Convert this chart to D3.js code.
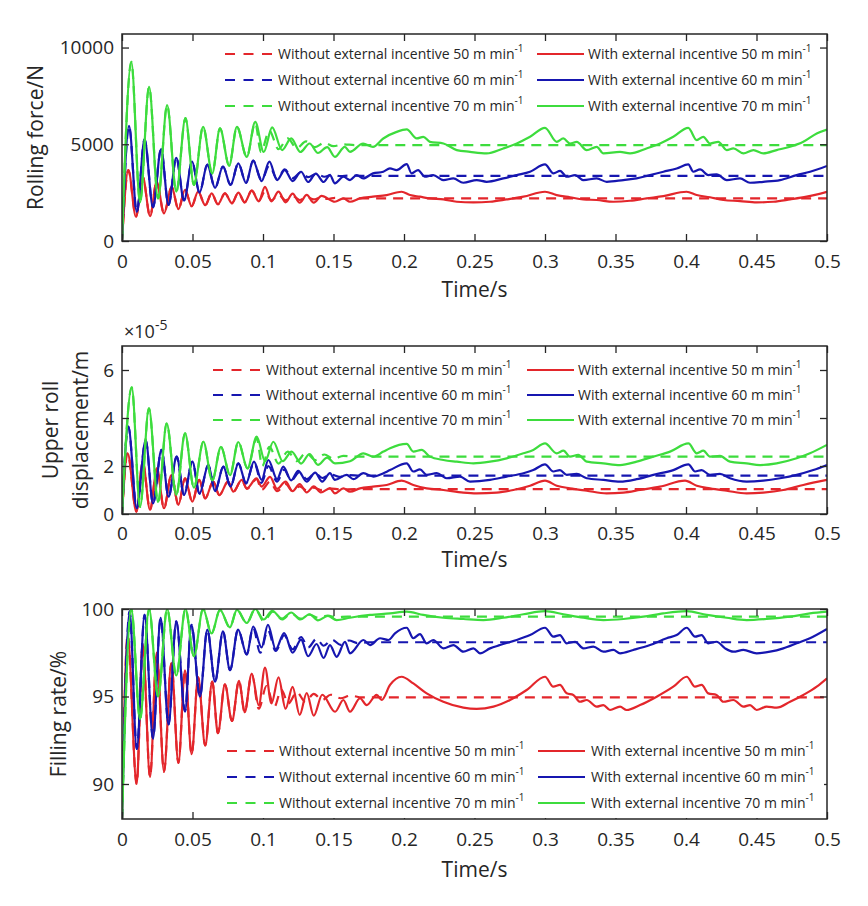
<!DOCTYPE html>
<html>
<head>
<meta charset="utf-8">
<script src="https://cdn.jsdelivr.net/npm/d3@7"></script>
<style>
  body { margin: 0; background: #fff; }
  text { font-family: "Open Sans", sans-serif; fill: #262626; }
</style>
</head>
<body>
<div id="chart"></div>
<script>
// ---- ticks ----
var timeTicks = [0, 0.05, 0.1, 0.15, 0.2, 0.25, 0.3, 0.35, 0.4, 0.45, 0.5];
var forceTicks = [0, 5000, 10000];
var dispTicks = [0, 2, 4, 6];
var fillTicks = [90, 95, 100];

var legendLabels = [
    ["Without external incentive 50 m min", "With external incentive 50 m min"],
    ["Without external incentive 60 m min", "With external incentive 60 m min"],
    ["Without external incentive 70 m min", "With external incentive 70 m min"]
];

// ---- rolling force (N): [time s, value] ----
var forceRedEarly = [[0,0],[0.0045,3665],[0.0099,1256],[0.0147,3320],[0.0199,1290],[0.0246,3060],[0.0298,1430],[0.0352,2800],[0.040,1650],[0.0447,2650],[0.0494,1800],[0.054,2560],[0.059,1850],[0.0636,2460],[0.068,1900],[0.073,2460],[0.078,1950],[0.0825,2500],[0.087,2000],[0.092,2600]];
var forceRedWithout = [[0.097,2080],[0.1014,2550],[0.106,2100],[0.111,2400],[0.116,2100],[0.121,2330],[0.126,2120],[0.131,2280],[0.136,2150],[0.141,2250],[0.146,2170],[0.151,2230],[0.158,2190],[0.166,2203],[0.5,2203]];
var forceRedWith = [[0.097,2050],[0.1014,2800],[0.106,2050],[0.111,2550],[0.116,2000],[0.121,2450],[0.126,1980],[0.131,2380],[0.136,1980],[0.1415,2330],[0.151,2030],[0.157,2203],[0.1617,2030],[0.1688,2203],[0.178,2290],[0.1877,2375],[0.1983,2545],[0.2043,2375],[0.2113,2290],[0.2184,2203],[0.228,2150],[0.2374,2030],[0.2492,1998],[0.261,2030],[0.2728,2150],[0.2847,2290],[0.3,2545],[0.3083,2375],[0.3177,2260],[0.3272,2150],[0.3367,2118],[0.3485,2030],[0.3603,2080],[0.372,2203],[0.384,2320],[0.4004,2545],[0.4076,2375],[0.417,2260],[0.4265,2118],[0.4383,2065],[0.4501,1998],[0.462,2030],[0.4738,2150],[0.4856,2290],[0.5,2545]];

var forceBlueEarly = [[0,0],[0.005,5950],[0.0105,1500],[0.016,5250],[0.022,1750],[0.0277,4750],[0.033,1860],[0.0385,4300],[0.044,2100],[0.0497,4100],[0.055,2500],[0.0605,3950],[0.066,2750],[0.0716,3850],[0.077,2900],[0.0825,4010],[0.088,3000]];
var forceBlueWithout = [[0.093,4150],[0.099,3150],[0.1045,3900],[0.11,3200],[0.1154,3700],[0.121,3250],[0.127,3550],[0.132,3300],[0.138,3480],[0.1435,3320],[0.149,3430],[0.155,3350],[0.161,3380],[0.17,3371],[0.5,3371]];
var forceBlueWith = [[0.093,4150],[0.099,3100],[0.1045,4100],[0.11,3150],[0.1154,3665],[0.121,3100],[0.127,3580],[0.132,3050],[0.1375,3480],[0.143,3050],[0.1475,3407],[0.151,2980],[0.157,3320],[0.1617,3150],[0.1664,3407],[0.171,3235],[0.178,3495],[0.1853,3580],[0.19,3750],[0.1948,3665],[0.2019,3975],[0.2054,3495],[0.21,3665],[0.2148,3320],[0.2207,3407],[0.228,3150],[0.235,3235],[0.242,3010],[0.2516,3150],[0.2586,3060],[0.2704,3235],[0.28,3407],[0.2894,3580],[0.3,3960],[0.306,3495],[0.3107,3630],[0.3154,3320],[0.3214,3407],[0.3272,3150],[0.3367,3235],[0.3438,3060],[0.3556,3150],[0.365,3235],[0.3745,3407],[0.384,3580],[0.3934,3750],[0.4016,3960],[0.4052,3580],[0.41,3700],[0.4158,3407],[0.4217,3450],[0.4289,3150],[0.4383,3235],[0.4454,3010],[0.4548,3060],[0.4667,3150],[0.4785,3407],[0.488,3580],[0.5,3880]];

var forceGreenEarly = [[0,0],[0.0066,9257],[0.0128,2000],[0.0192,7970],[0.0256,2200],[0.032,7020],[0.0385,2550],[0.045,6350],[0.051,2900],[0.0575,5900],[0.064,3500],[0.0695,5820],[0.076,3900],[0.0815,5900],[0.0885,4350]];
var forceGreenWithout = [[0.0945,6100],[0.0985,4600],[0.1045,5700],[0.111,4750],[0.1175,5300],[0.124,4800],[0.1305,5150],[0.137,4850],[0.1435,5080],[0.15,4900],[0.157,5000],[0.165,4956],[0.5,4956]];
var forceGreenWith = [[0.0945,6160],[0.1005,4600],[0.1065,5870],[0.1135,4700],[0.12,5300],[0.1265,4600],[0.133,5040],[0.139,4550],[0.1455,4850],[0.151,4350],[0.158,4870],[0.1617,4610],[0.171,5040],[0.178,4870],[0.1853,5300],[0.1948,5640],[0.2019,5765],[0.209,5300],[0.2137,5385],[0.2184,5126],[0.228,5040],[0.2374,4700],[0.2468,4610],[0.2586,4530],[0.2704,4785],[0.28,5040],[0.2894,5385],[0.3,5850],[0.3083,5126],[0.313,5300],[0.3177,5040],[0.3225,5126],[0.3296,4700],[0.3367,4870],[0.3414,4530],[0.3532,4610],[0.3603,4530],[0.372,4785],[0.3816,5040],[0.391,5385],[0.4016,5850],[0.4076,5214],[0.4123,5385],[0.417,5040],[0.4229,5126],[0.4289,4700],[0.4336,4785],[0.4407,4530],[0.4478,4700],[0.4548,4530],[0.4643,4700],[0.4738,4870],[0.4832,5126],[0.4927,5560],[0.5,5765]];

// ---- upper roll displacement (x1e-5 m) ----
var dispRedEarly = [[0,0],[0.004,2.53],[0.0102,0.1],[0.0147,2.18],[0.0199,0.17],[0.0248,1.90],[0.0298,0.24],[0.035,1.62],[0.04,0.38],[0.0447,1.49],[0.0499,0.51],[0.0548,1.42],[0.059,0.65],[0.0647,1.35],[0.069,0.79],[0.0752,1.35],[0.079,0.93],[0.0849,1.42]];
var dispRedWithout = [[0.0885,1.05],[0.0955,1.45],[0.099,1.0],[0.105,1.35],[0.11,0.95],[0.116,1.25],[0.121,0.95],[0.126,1.15],[0.131,0.98],[0.136,1.1],[0.141,1.0],[0.147,1.07],[0.155,1.02],[0.165,1.04],[0.5,1.04]];
var dispRedWith = [[0.0885,1.07],[0.0955,1.49],[0.099,1.14],[0.105,1.55],[0.11,1.05],[0.116,1.35],[0.121,0.95],[0.126,1.25],[0.131,0.9],[0.136,1.15],[0.141,0.9],[0.1475,1.07],[0.151,0.86],[0.157,1.07],[0.1617,0.93],[0.1688,1.07],[0.178,1.14],[0.1877,1.21],[0.1983,1.39],[0.2066,1.21],[0.2161,1.07],[0.2279,1.0],[0.2421,0.89],[0.2515,0.86],[0.2657,0.89],[0.2775,1.0],[0.2894,1.18],[0.3,1.39],[0.3083,1.18],[0.3177,1.07],[0.3296,0.97],[0.3437,0.86],[0.3556,0.89],[0.3674,1.0],[0.3816,1.14],[0.3993,1.39],[0.4076,1.18],[0.417,1.07],[0.4288,0.97],[0.443,0.86],[0.4548,0.89],[0.469,1.0],[0.4832,1.21],[0.5,1.42]];

var dispBlueEarly = [[0,0],[0.0045,3.64],[0.0104,0.24],[0.0168,3.08],[0.022,0.44],[0.028,2.67],[0.033,0.72],[0.0388,2.39],[0.044,0.8],[0.0499,2.18],[0.055,0.85],[0.0612,2.04],[0.066,0.95],[0.0719,1.97],[0.077,1.14],[0.0825,2.11],[0.088,1.28]];
var dispBlueWithout = [[0.0936,2.15],[0.099,1.3],[0.1038,2.0],[0.11,1.35],[0.115,1.85],[0.12,1.4],[0.126,1.75],[0.131,1.45],[0.137,1.7],[0.142,1.5],[0.148,1.65],[0.154,1.55],[0.16,1.62],[0.17,1.60],[0.5,1.60]];
var dispBlueWith = [[0.0936,2.18],[0.099,1.42],[0.1038,2.25],[0.11,1.45],[0.1144,1.97],[0.12,1.4],[0.125,1.80],[0.131,1.35],[0.137,1.72],[0.142,1.35],[0.1475,1.70],[0.151,1.42],[0.1593,1.63],[0.1641,1.45],[0.1712,1.70],[0.1783,1.56],[0.1854,1.70],[0.1901,1.83],[0.2019,2.11],[0.2066,1.77],[0.2113,1.86],[0.2161,1.63],[0.2232,1.70],[0.2303,1.49],[0.2397,1.56],[0.2468,1.35],[0.261,1.42],[0.2728,1.56],[0.2847,1.70],[0.2917,1.83],[0.3,2.07],[0.3059,1.77],[0.3106,1.83],[0.3154,1.63],[0.3225,1.67],[0.3296,1.49],[0.3414,1.42],[0.3532,1.35],[0.365,1.45],[0.3768,1.63],[0.391,1.83],[0.4017,2.07],[0.4064,1.77],[0.4111,1.83],[0.417,1.63],[0.4241,1.67],[0.4312,1.49],[0.443,1.35],[0.4548,1.39],[0.4667,1.49],[0.4785,1.63],[0.4903,1.83],[0.5,2.04]];

var dispGreenEarly = [[0,0],[0.0069,5.28],[0.0128,0.3],[0.0191,4.40],[0.0256,0.5],[0.0317,3.78],[0.0385,0.8],[0.0447,3.36],[0.051,1.1],[0.0577,3.01],[0.064,1.4],[0.0702,2.80],[0.0766,1.62],[0.0825,3.0],[0.089,1.9]];
var dispGreenWithout = [[0.0955,3.15],[0.0995,2.0],[0.1045,2.8],[0.111,2.1],[0.1175,2.6],[0.124,2.2],[0.1305,2.55],[0.137,2.25],[0.1435,2.48],[0.15,2.3],[0.157,2.42],[0.165,2.39],[0.5,2.39]];
var dispGreenWith = [[0.0955,3.22],[0.1015,2.2],[0.1073,3.01],[0.114,2.2],[0.1203,2.60],[0.127,2.1],[0.133,2.5],[0.139,2.05],[0.1455,2.35],[0.1511,2.11],[0.1617,2.2],[0.1712,2.53],[0.1783,2.39],[0.1854,2.60],[0.1901,2.74],[0.2019,2.92],[0.2066,2.60],[0.2125,2.67],[0.2184,2.39],[0.2279,2.25],[0.2374,2.18],[0.2492,2.11],[0.261,2.18],[0.2728,2.32],[0.2847,2.53],[0.2917,2.67],[0.3,2.94],[0.3083,2.53],[0.3131,2.64],[0.3177,2.39],[0.3236,2.46],[0.3296,2.18],[0.3414,2.11],[0.3532,2.04],[0.365,2.18],[0.3768,2.39],[0.3887,2.60],[0.4017,2.94],[0.4076,2.53],[0.4123,2.64],[0.417,2.39],[0.4241,2.42],[0.4312,2.18],[0.443,2.11],[0.4525,2.04],[0.4643,2.11],[0.4785,2.32],[0.4879,2.53],[0.5,2.88]];

// ---- filling rate (%) ----
var fillRedEarly = [[0,88],[0.004,98.5],[0.0104,90.0],[0.0147,98.0],[0.0199,90.4],[0.0246,97.5],[0.0298,90.7],[0.035,96.9],[0.04,91.2],[0.0447,96.5],[0.0494,91.7],[0.054,96.1],[0.059,92.2],[0.064,95.85],[0.068,92.9],[0.073,95.7],[0.078,93.6],[0.083,95.9],[0.087,94.1],[0.092,96.3]];
var fillRedWithout = [[0.097,94.3],[0.1025,95.6],[0.108,94.4],[0.113,95.4],[0.118,94.6],[0.124,95.25],[0.13,94.7],[0.136,95.15],[0.142,94.8],[0.148,95.1],[0.155,94.9],[0.162,95.05],[0.17,94.95],[0.5,94.95]];
var fillRedWith = [[0.097,94.5],[0.1014,96.65],[0.106,94.6],[0.111,96.1],[0.116,94.3],[0.121,95.55],[0.126,93.95],[0.131,95.2],[0.136,93.9],[0.142,95.1],[0.1511,94.13],[0.157,94.8],[0.1617,94.13],[0.1688,94.9],[0.1735,94.51],[0.1806,95.09],[0.1842,94.8],[0.1901,95.66],[0.1983,96.13],[0.2066,95.75],[0.2161,95.18],[0.2279,94.7],[0.2421,94.36],[0.2515,94.29],[0.2634,94.42],[0.2752,94.8],[0.287,95.37],[0.3,96.13],[0.3059,95.56],[0.3106,95.66],[0.3154,95.18],[0.3201,95.09],[0.3248,94.7],[0.3296,94.8],[0.3366,94.42],[0.3414,94.51],[0.3461,94.23],[0.3532,94.42],[0.3579,94.23],[0.3674,94.51],[0.3792,94.99],[0.391,95.56],[0.4005,96.13],[0.4064,95.56],[0.4111,95.66],[0.4158,95.18],[0.4217,95.09],[0.4265,94.7],[0.4336,94.8],[0.4407,94.42],[0.4454,94.51],[0.4501,94.23],[0.4572,94.42],[0.4643,94.36],[0.4738,94.7],[0.4832,95.09],[0.4927,95.56],[0.5,96.04]];

var fillBlueEarly = [[0,88],[0.0054,99.87],[0.0105,92.0],[0.016,99.67],[0.022,92.6],[0.0274,99.49],[0.033,93.4],[0.0385,99.3],[0.0447,94.15],[0.0492,99.1],[0.0553,95.0],[0.0605,98.82],[0.066,95.85],[0.0716,98.72],[0.0766,96.5],[0.0823,98.82],[0.0885,97.4]];
var fillBlueWithout = [[0.093,98.95],[0.098,97.5],[0.1035,98.8],[0.109,97.6],[0.115,98.5],[0.121,97.7],[0.127,98.4],[0.132,97.8],[0.138,98.3],[0.143,97.9],[0.149,98.25],[0.155,97.95],[0.161,98.2],[0.167,98.05],[0.175,98.1],[0.5,98.1]];
var fillBlueWith = [[0.093,99.0],[0.099,97.8],[0.1035,99.1],[0.109,97.7],[0.115,98.63],[0.121,97.5],[0.127,98.25],[0.132,97.3],[0.138,98.0],[0.143,97.2],[0.1475,97.94],[0.1522,97.27],[0.1582,98.13],[0.1617,97.47],[0.1712,98.23],[0.1759,97.94],[0.183,98.33],[0.1889,98.23],[0.1936,98.61],[0.2019,98.93],[0.2066,98.33],[0.2113,98.57],[0.2161,98.04],[0.2208,98.23],[0.2279,97.75],[0.235,97.94],[0.2421,97.56],[0.2492,97.75],[0.2539,97.47],[0.261,97.75],[0.2681,97.94],[0.2799,98.23],[0.2894,98.51],[0.3,98.93],[0.3059,98.42],[0.3106,98.51],[0.3154,98.04],[0.3213,98.13],[0.3272,97.75],[0.3343,97.85],[0.3414,97.56],[0.3485,97.66],[0.3532,97.47],[0.3626,97.66],[0.3745,97.94],[0.3863,98.33],[0.3934,98.51],[0.4005,98.93],[0.4064,98.42],[0.4111,98.51],[0.4158,98.04],[0.4217,98.13],[0.4277,97.75],[0.4336,97.56],[0.4407,97.66],[0.4501,97.47],[0.4596,97.56],[0.469,97.75],[0.4785,98.04],[0.4879,98.33],[0.5,98.86]];

var fillGreenEarly = [[0,88],[0.0066,100],[0.0128,93.7],[0.0192,100],[0.0256,95.0],[0.032,100],[0.0385,96.2],[0.045,100],[0.051,97.3],[0.0575,100],[0.0635,98.6],[0.0695,99.95],[0.0765,98.95],[0.0815,99.95],[0.0885,99.2]];
var fillGreenWithout = [[0.0945,100],[0.1005,99.3],[0.107,99.85],[0.1135,99.4],[0.12,99.75],[0.1265,99.45],[0.133,99.68],[0.139,99.5],[0.146,99.62],[0.152,99.52],[0.16,99.57],[0.5,99.56]];
var fillGreenWith = [[0.0945,100],[0.1005,99.4],[0.1065,99.9],[0.1135,99.45],[0.12,99.8],[0.1265,99.4],[0.133,99.7],[0.139,99.35],[0.146,99.6],[0.1522,99.37],[0.1617,99.5],[0.1759,99.66],[0.1901,99.75],[0.2019,99.85],[0.2137,99.66],[0.2279,99.5],[0.2421,99.43],[0.2563,99.37],[0.2704,99.5],[0.2847,99.7],[0.3,99.88],[0.3131,99.7],[0.3272,99.5],[0.3414,99.37],[0.3556,99.43],[0.3697,99.56],[0.3839,99.75],[0.4005,99.88],[0.4147,99.66],[0.4288,99.5],[0.443,99.37],[0.4572,99.43],[0.4738,99.56],[0.4879,99.75],[0.5,99.85]];

var colors = ["#e3262b", "#1616b0", "#3ddc3d"];

var width = 868, height = 906;
var plotLeft = 122, plotRight = 827;
var tickLen = 7;

var svg = d3.select("#chart").append("svg")
    .attr("width", width)
    .attr("height", height);

var x = d3.scaleLinear().domain([0, 0.5]).range([plotLeft, plotRight]);

var panels = [
    {
        id: "force", top: 34, bottom: 241, domain: [0, 10700], ticks: forceTicks,
        series: [[forceRedEarly, forceRedWithout, forceRedWith],
                 [forceBlueEarly, forceBlueWithout, forceBlueWith],
                 [forceGreenEarly, forceGreenWithout, forceGreenWith]],
        rows: [54, 80, 106], leg: [225, 278, 537, 588],
        ylabel: [["Rolling force/N", 43]], tickBase: 269, titleBase: 297
    },
    {
        id: "disp", top: 346, bottom: 514, domain: [0, 7], ticks: dispTicks,
        series: [[dispRedEarly, dispRedWithout, dispRedWith],
                 [dispBlueEarly, dispBlueWithout, dispBlueWith],
                 [dispGreenEarly, dispGreenWithout, dispGreenWith]],
        rows: [370, 395, 420], leg: [213, 266, 527, 578],
        ylabel: [["Upper roll", 58], ["displacement/m", 88]], tickBase: 541, titleBase: 567,
        exponent: true
    },
    {
        id: "fill", top: 609, bottom: 819, domain: [88, 100], ticks: fillTicks,
        series: [[fillRedEarly, fillRedWithout, fillRedWith],
                 [fillBlueEarly, fillBlueWithout, fillBlueWith],
                 [fillGreenEarly, fillGreenWithout, fillGreenWith]],
        rows: [751, 777, 803], leg: [227, 279, 538, 591],
        ylabel: [["Filling rate/%", 66]], tickBase: 847, titleBase: 877,
        legendBg: true
    }
];

panels.forEach(function (p) {
    var y = d3.scaleLinear().domain(p.domain).range([p.bottom, p.top]);

    svg.append("clipPath").attr("id", "clip-" + p.id)
        .append("rect")
        .attr("x", plotLeft).attr("y", p.top)
        .attr("width", plotRight - plotLeft).attr("height", p.bottom - p.top);

    var line = d3.line()
        .x(function (d) { return x(d[0]) })
        .y(function (d) { return y(d[1]) })
        .curve(d3.curveMonotoneX);

    var curves = svg.append("g").attr("clip-path", "url(#clip-" + p.id + ")");

    p.series.forEach(function (s, i) {
        // without (dashed)
        curves.append("path")
            .attr("d", line(s[0].concat(s[1])))
            .style("fill", "none")
            .style("stroke", colors[i])
            .style("stroke-width", 2.2)
            .style("stroke-dasharray", "10,7");
        // with (solid)
        curves.append("path")
            .attr("d", line(s[0].concat(s[2])))
            .style("fill", "none")
            .style("stroke", colors[i])
            .style("stroke-width", 2.2);
    });

    //axes (ticks inward)
    var bottomAxis = svg.append("g")
        .attr("transform", "translate(0," + p.bottom + ")")
        .call(d3.axisBottom(x).tickValues(timeTicks).tickSize(-tickLen).tickPadding(p.tickBase - p.bottom - 14)
            .tickFormat(function (d) { return d === 0 ? "0" : String(+d.toFixed(2)) }));
    svg.append("g")
        .attr("transform", "translate(0," + p.top + ")")
        .call(d3.axisTop(x).tickValues(timeTicks).tickSize(-tickLen).tickFormat(""));
    var leftAxis = svg.append("g")
        .attr("transform", "translate(" + plotLeft + ",0)")
        .call(d3.axisLeft(y).tickValues(p.ticks).tickSize(-tickLen).tickPadding(8).tickFormat(d3.format("d")));
    svg.append("g")
        .attr("transform", "translate(" + plotRight + ",0)")
        .call(d3.axisRight(y).tickValues(p.ticks).tickSize(-tickLen).tickFormat(""));

    svg.selectAll(".domain").remove();
    svg.selectAll(".tick line").attr("stroke", "#262626").attr("stroke-width", 1.3);
    bottomAxis.selectAll("text").style("font-size", "19px").attr("fill", "#262626");
    leftAxis.selectAll("text").style("font-size", "19px").attr("fill", "#262626");

    if (p.legendBg) {
        svg.append("rect")
            .attr("x", 220).attr("y", 735)
            .attr("width", 604).attr("height", p.bottom - 735 - 1)
            .style("fill", "white");
    }

    // frame
    svg.append("rect")
        .attr("x", plotLeft).attr("y", p.top)
        .attr("width", plotRight - plotLeft).attr("height", p.bottom - p.top)
        .style("fill", "none")
        .style("stroke", "#262626")
        .style("stroke-width", 1.5);

    // legend
    var leg = svg.append("g");
    legendLabels.forEach(function (pair, i) {
        var yy = p.rows[i];
        [0, 1].forEach(function (k) {
            var x0 = p.leg[k * 2], tx = p.leg[k * 2 + 1];
            leg.append("line")
                .attr("x1", x0).attr("x2", x0 + 47)
                .attr("y1", yy).attr("y2", yy)
                .style("stroke", colors[i])
                .style("stroke-width", 2.2)
                .style("stroke-dasharray", k === 0 ? "10,8.5" : null);
            var t = leg.append("text")
                .attr("x", tx).attr("y", yy + 5)
                .style("font-size", "14px");
            t.append("tspan").text(pair[k]);
            t.append("tspan").attr("dy", -7).style("font-size", "10px").text("-1");
        });
    });

    // axis titles
    svg.append("text")
        .attr("x", (plotLeft + plotRight) / 2)
        .attr("y", p.titleBase)
        .attr("text-anchor", "middle")
        .style("font-size", "21px")
        .text("Time/s");

    p.ylabel.forEach(function (lab) {
        svg.append("text")
            .attr("transform", "translate(" + lab[1] + "," + ((p.top + p.bottom) / 2) + ") rotate(-90)")
            .attr("text-anchor", "middle")
            .style("font-size", "21px")
            .text(lab[0]);
    });

    if (p.exponent) {
        var e = svg.append("text")
            .attr("x", 124).attr("y", 338)
            .style("font-size", "18px");
        e.append("tspan").text("\u00d710");
        e.append("tspan").attr("dy", -8).style("font-size", "14px").text("-5");
    }
});
</script>
</body>
</html>
